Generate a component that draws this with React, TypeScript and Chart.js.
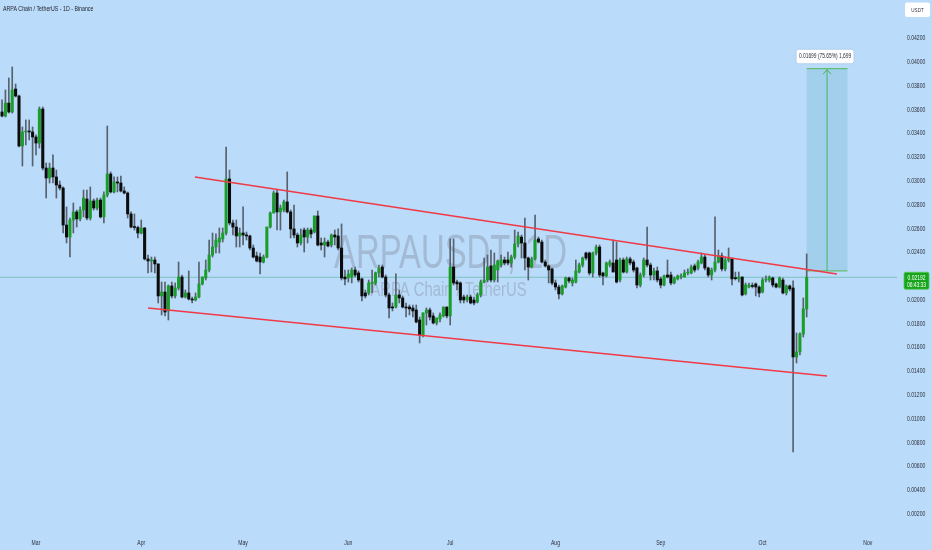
import React, { useEffect, useRef } from 'react';
import { Chart, registerables } from 'chart.js';

Chart.register(...registerables);

// Day index of the first candle, counted from 1 Mar 2025 (day 0)
const FIRST_DAY = -10;
// Prices below are in units of 0.00001 USDT
const PRICE_UNIT = 1e-5;

const OPEN = [
  3581, 3547, 3656, 3581, 3774, 3715, 3295, 3413, 3421, 3413,
  3371, 3320, 3606, 3110, 3026, 3110, 3035, 2967, 2942, 2631,
  2530, 2673, 2741, 2682, 2757, 2850, 2690, 2833, 2774, 2841,
  2699, 2883, 3060, 2909, 2993, 2984, 2917, 2900, 2724, 2614,
  2610, 2564, 2606, 2346, 2329, 2337, 2304, 2035, 2068, 1909,
  2119, 2035, 2102, 2194, 2026, 2060, 2009, 2001, 2026, 2136,
  2186, 2253, 2379, 2446, 2488, 2514, 2564, 3018, 2648, 2614,
  2539, 2564, 2547, 2539, 2438, 2371, 2362, 2320, 2362, 2614,
  2732, 2900, 2741, 2757, 2825, 2741, 2598, 2547, 2480, 2589,
  2530, 2589, 2572, 2707, 2480, 2463, 2488, 2463, 2547, 2539,
  2438, 2194, 2186, 2194, 2253, 2228, 2178, 2060, 2060, 2136,
  2144, 2228, 2278, 2194, 2043, 1942, 1942, 2043, 2018, 1942,
  1942, 1934, 1917, 1833, 1707, 1892, 1917, 1867, 1808, 1841,
  1867, 1942, 1867, 2278, 2152, 2144, 2026, 2001, 2026, 2001,
  1984, 2043, 2152, 2169, 2287, 2169, 2253, 2295, 2337, 2337,
  2312, 2362, 2472, 2530, 2480, 2354, 2278, 2346, 2514, 2488,
  2320, 2287, 2262, 2144, 2110, 2052, 2110, 2186, 2144, 2152,
  2236, 2295, 2396, 2396, 2228, 2396, 2446, 2228, 2203, 2295,
  2312, 2337, 2169, 2337, 2236, 2346, 2320, 2270, 2127, 2211,
  2337, 2295, 2211, 2245, 2178, 2127, 2211, 2211, 2144, 2178,
  2194, 2194, 2228, 2228, 2287, 2270, 2312, 2362, 2270, 2211,
  2253, 2320, 2371, 2262, 2337, 2346, 2186, 2178, 2194, 2052,
  2110, 2119, 2136, 2110, 2068, 2169, 2169, 2186, 2136, 2110,
  2169, 2060, 2119, 2102, 1522, 1564, 1715, 1926,
];

const HIGH = [
  3682, 3766, 3867, 3959, 3816, 3724, 3455, 3514, 3514, 3455,
  3388, 3623, 3623, 3152, 3152, 3220, 3093, 3001, 2951, 2783,
  2690, 2816, 2757, 2783, 2925, 2925, 2951, 2850, 2858, 2858,
  2909, 3463, 3077, 3035, 3035, 3043, 2951, 2909, 2741, 2724,
  2623, 2673, 2610, 2379, 2362, 2362, 2304, 2152, 2152, 2127,
  2152, 2144, 2320, 2211, 2085, 2245, 2026, 2060, 2320, 2194,
  2337, 2505, 2564, 2556, 2606, 2606, 3287, 3093, 2673, 2673,
  2606, 2783, 2572, 2547, 2463, 2404, 2396, 2379, 2614, 2741,
  2917, 2925, 2799, 2841, 3077, 2757, 2799, 2564, 2598, 2606,
  2606, 2606, 2707, 2749, 2522, 2522, 2505, 2556, 2589, 2598,
  2640, 2253, 2253, 2270, 2278, 2245, 2186, 2085, 2169, 2253,
  2236, 2295, 2295, 2211, 2060, 1976, 2220, 2085, 2035, 1976,
  1959, 1959, 1959, 1858, 1892, 1934, 1934, 1892, 1850, 1892,
  1942, 1942, 2514, 2514, 2169, 2152, 2043, 2043, 2043, 2026,
  2060, 2169, 2354, 2379, 2421, 2396, 2337, 2379, 2362, 2404,
  2379, 2589, 2572, 2547, 2690, 2362, 2362, 2715, 2530, 2505,
  2337, 2295, 2270, 2169, 2127, 2127, 2194, 2194, 2186, 2337,
  2312, 2362, 2404, 2404, 2404, 2463, 2463, 2236, 2320, 2337,
  2505, 2488, 2354, 2354, 2362, 2362, 2337, 2278, 2228, 2354,
  2614, 2312, 2270, 2278, 2194, 2211, 2337, 2236, 2194, 2211,
  2220, 2253, 2262, 2295, 2304, 2337, 2396, 2379, 2278, 2270,
  2699, 2421, 2396, 2362, 2438, 2354, 2236, 2236, 2194, 2144,
  2144, 2144, 2144, 2119, 2186, 2203, 2203, 2194, 2144, 2194,
  2186, 2127, 2127, 2161, 1724, 1724, 2018, 2388,
];

const LOW = [
  3539, 3539, 3572, 3572, 3707, 3287, 3127, 3304, 3346, 3127,
  3220, 3278, 3093, 2858, 2984, 2984, 2858, 2925, 2564, 2480,
  2362, 2564, 2614, 2665, 2699, 2673, 2673, 2757, 2757, 2690,
  2648, 2867, 2900, 2900, 2909, 2909, 2892, 2690, 2606, 2589,
  2522, 2556, 2337, 2228, 2236, 2228, 1976, 1875, 1867, 1833,
  2018, 2018, 2085, 2018, 2018, 2001, 1976, 1993, 2018, 2127,
  2169, 2236, 2362, 2396, 2396, 2488, 2547, 2631, 2547, 2446,
  2446, 2463, 2505, 2421, 2354, 2320, 2220, 2312, 2354, 2606,
  2732, 2589, 2589, 2741, 2732, 2522, 2522, 2446, 2463, 2404,
  2480, 2522, 2564, 2455, 2421, 2362, 2446, 2446, 2463, 2421,
  2169, 2127, 2152, 2144, 2194, 2152, 1993, 2018, 2043, 2060,
  2127, 2194, 2186, 2026, 1850, 1909, 1934, 1976, 1934, 1858,
  1875, 1858, 1808, 1640, 1690, 1791, 1833, 1799, 1791, 1816,
  1858, 1850, 1791, 2127, 2085, 1976, 1976, 1984, 1968, 1959,
  1976, 2026, 2144, 2152, 2152, 2152, 2152, 2278, 2295, 2295,
  2278, 2346, 2446, 2354, 2253, 2169, 2270, 2337, 2480, 2312,
  2278, 2144, 2127, 2085, 2009, 2043, 2102, 2144, 2119, 2144,
  2228, 2278, 2337, 2211, 2194, 2379, 2194, 2127, 2194, 2278,
  2236, 2144, 2152, 2228, 2228, 2295, 2236, 2102, 2110, 2194,
  2278, 2169, 2169, 2152, 2102, 2119, 2186, 2127, 2136, 2169,
  2178, 2194, 2211, 2220, 2236, 2253, 2304, 2253, 2194, 2169,
  2236, 2312, 2245, 2245, 2320, 2127, 2169, 2152, 2035, 2043,
  2102, 2102, 2035, 2026, 2060, 2152, 2152, 2110, 2102, 2102,
  2052, 2043, 2077, 724, 1472, 1539, 1690, 1858,
];

const CLOSE = [
  3547, 3656, 3581, 3766, 3715, 3295, 3413, 3421, 3413, 3371,
  3320, 3606, 3110, 3026, 3110, 3035, 2967, 2942, 2631, 2530,
  2673, 2741, 2682, 2757, 2858, 2690, 2833, 2774, 2841, 2699,
  2883, 3060, 2909, 2993, 2984, 2917, 2900, 2724, 2614, 2610,
  2564, 2606, 2346, 2329, 2337, 2304, 2035, 2068, 1900, 2119,
  2035, 2102, 2194, 2026, 2060, 2009, 2001, 2026, 2136, 2194,
  2253, 2379, 2446, 2505, 2522, 2564, 3018, 2648, 2614, 2539,
  2564, 2547, 2539, 2438, 2362, 2329, 2320, 2362, 2614, 2732,
  2900, 2741, 2774, 2825, 2741, 2598, 2547, 2480, 2547, 2530,
  2589, 2556, 2707, 2463, 2463, 2488, 2455, 2547, 2530, 2438,
  2186, 2178, 2220, 2253, 2211, 2169, 2035, 2035, 2144, 2152,
  2228, 2270, 2194, 2043, 1934, 1934, 2043, 2018, 1942, 1934,
  1926, 1909, 1816, 1707, 1892, 1917, 1858, 1808, 1850, 1875,
  1942, 1867, 2278, 2144, 2136, 2001, 2001, 2026, 1976, 1976,
  2043, 2152, 2169, 2278, 2169, 2295, 2329, 2337, 2312, 2312,
  2362, 2472, 2539, 2480, 2354, 2278, 2346, 2505, 2488, 2320,
  2287, 2253, 2144, 2110, 2052, 2119, 2186, 2161, 2169, 2245,
  2295, 2354, 2354, 2228, 2396, 2446, 2211, 2203, 2312, 2320,
  2236, 2152, 2337, 2236, 2346, 2312, 2253, 2127, 2211, 2337,
  2295, 2211, 2245, 2169, 2127, 2203, 2194, 2144, 2186, 2203,
  2203, 2228, 2236, 2278, 2253, 2320, 2362, 2270, 2211, 2253,
  2320, 2371, 2262, 2337, 2354, 2178, 2180, 2194, 2043, 2127,
  2127, 2115, 2110, 2060, 2169, 2178, 2194, 2127, 2110, 2186,
  2060, 2119, 2094, 1522, 1564, 1715, 1926, 2192,
];

// x axis: month starts (day index from 1 Mar)
const MONTH_DAYS = [0, 31, 61, 92, 122, 153, 184, 214, 245];
const MONTH_LABELS = ['Mar', 'Apr', 'May', 'Jun', 'Jul', 'Aug', 'Sep', 'Oct', 'Nov'];
const X_RANGE = [-10.6, 253.6];

// y axis
const Y_TICKS = [
  0.002, 0.004, 0.006, 0.008, 0.01, 0.012, 0.014, 0.016, 0.018, 0.02, 0.022,
  0.024, 0.026, 0.028, 0.03, 0.032, 0.034, 0.036, 0.038, 0.04, 0.042,
];
const Y_RANGE = [0.0011, 0.04522];

const LAST_PRICE = 0.02192;
const COUNTDOWN = '06:43:33';
const QUOTE = 'USDT';

// drawn channel lines
const UPPER_DAYS = [46.8, 235.9];
const UPPER_PRICES = [0.03034, 0.02219];
const LOWER_DAYS = [33.0, 233.0];
const LOWER_PRICES = [0.01934, 0.01362];

// long-position target box
const TARGET_DAYS = [227, 239];
const TARGET_PRICES = [0.02246, 0.03945];
const TARGET_LABEL = '0.01699 (75.65%) 1,699';

const TITLE = 'ARPA Chain / TetherUS - 1D - Binance';
const WATERMARK = 'ARPAUSDT, 1D';
const WATERMARK_SUB = 'ARPA Chain / TetherUS';

const BG = '#bbdbfa';
const GREEN = '#1b9d2a';
const BLACK = '#0c0c0c';
const WICK = '#56626e';
const RED = '#f03a45';
const FONT = "'Liberation Sans', Arial, sans-serif";

function txt(
  ctx: CanvasRenderingContext2D,
  s: string,
  x: number,
  y: number,
  size: number,
  color: string,
  align: CanvasTextAlign = 'left',
  sx = 0.76,
  baseline: CanvasTextBaseline = 'middle'
) {
  ctx.save();
  ctx.font = `${size}px ${FONT}`;
  ctx.fillStyle = color;
  ctx.textAlign = align;
  ctx.textBaseline = baseline;
  ctx.translate(x, y);
  ctx.scale(sx, 1);
  ctx.fillText(s, 0, 0);
  ctx.restore();
}

function rrect(ctx: CanvasRenderingContext2D, x: number, y: number, w: number, h: number, r: number) {
  ctx.beginPath();
  if ((ctx as any).roundRect) (ctx as any).roundRect(x, y, w, h, r);
  else ctx.rect(x, y, w, h);
}

const bgPlugin = {
  id: 'bg',
  beforeDraw(chart: any) {
    const ctx = chart.ctx as CanvasRenderingContext2D;
    ctx.save();
    ctx.fillStyle = BG;
    ctx.fillRect(0, 0, chart.width, chart.height);
    ctx.restore();
  },
};

const underlayPlugin = {
  id: 'underlay',
  beforeDatasetsDraw(chart: any) {
    const ctx = chart.ctx as CanvasRenderingContext2D;
    const a = chart.chartArea;
    const xs = chart.scales.x;
    const ys = chart.scales.y;
    const cx = (a.left + a.right) / 2 + 2;
    const cy = (a.top + a.bottom) / 2;
    txt(ctx, WATERMARK, cx, cy + 5.5, 49, 'rgba(120,132,150,0.38)', 'center', 0.67, 'alphabetic');
    txt(ctx, WATERMARK_SUB, cx - 2, cy + 33.5, 20, 'rgba(120,132,150,0.38)', 'center', 0.74, 'alphabetic');

    // target box
    const x0 = xs.getPixelForValue(TARGET_DAYS[0]);
    const x1 = xs.getPixelForValue(TARGET_DAYS[1]);
    const yb = ys.getPixelForValue(TARGET_PRICES[0]);
    const yt = ys.getPixelForValue(TARGET_PRICES[1]);
    ctx.save();
    ctx.fillStyle = 'rgba(140,196,224,0.55)';
    ctx.fillRect(x0, yt, x1 - x0, yb - yt);
    ctx.strokeStyle = '#62bf72';
    ctx.lineWidth = 1.2;
    ctx.beginPath();
    ctx.moveTo(x0, yb);
    ctx.lineTo(x1, yb);
    ctx.moveTo(x0, yt);
    ctx.lineTo(x1, yt);
    ctx.stroke();
    const xc = (x0 + x1) / 2;
    ctx.lineWidth = 1;
    ctx.strokeStyle = '#4cb35f';
    ctx.beginPath();
    ctx.moveTo(xc, yb);
    ctx.lineTo(xc, yt + 1);
    ctx.moveTo(xc - 4, yt + 5.5);
    ctx.lineTo(xc, yt + 1);
    ctx.lineTo(xc + 4, yt + 5.5);
    ctx.stroke();
    ctx.restore();
  },
};

const overlayPlugin = {
  id: 'overlay',
  afterDraw(chart: any) {
    const ctx = chart.ctx as CanvasRenderingContext2D;
    const a = chart.chartArea;
    const xs = chart.scales.x;
    const ys = chart.scales.y;
    const axisColor = '#2b2f3a';

    // y tick labels
    for (const t of ys.ticks) {
      const y = ys.getPixelForValue(t.value);
      txt(ctx, Number(t.value).toFixed(5), a.right + 10, y, 6.5, axisColor, 'left', 0.78);
    }
    // x tick labels
    xs.ticks.forEach((t: any) => {
      const i = MONTH_DAYS.indexOf(t.value);
      const x = xs.getPixelForValue(t.value);
      txt(ctx, MONTH_LABELS[i] ?? '', x, a.bottom + 18, 6.5, axisColor, 'center', 0.78);
    });

    // title
    txt(ctx, TITLE, 3, 9.5, 7, '#1c1f29', 'left', 0.75);

    // quote currency box
    ctx.save();
    ctx.fillStyle = '#ffffff';
    rrect(ctx, a.right + 8, 2.5, 25, 14.5, 2);
    ctx.fill();
    ctx.restore();
    txt(ctx, QUOTE, a.right + 20.5, 10, 6, '#333644', 'center', 0.76);

    // last price label
    const yp = ys.getPixelForValue(LAST_PRICE);
    ctx.save();
    ctx.fillStyle = '#17a51b';
    rrect(ctx, a.right + 7, yp - 5, 25, 17, 1.5);
    ctx.fill();
    ctx.strokeStyle = '#5cc85c';
    ctx.lineWidth = 0.8;
    ctx.stroke();
    ctx.restore();
    txt(ctx, LAST_PRICE.toFixed(5), a.right + 19.5, yp + 1, 6.5, '#ffffff', 'center', 0.76);
    txt(ctx, COUNTDOWN, a.right + 19.5, yp + 8, 6.5, '#ffffff', 'center', 0.76);

    // target label
    const x0 = xs.getPixelForValue(TARGET_DAYS[0]);
    const x1 = xs.getPixelForValue(TARGET_DAYS[1]);
    const yt = ys.getPixelForValue(TARGET_PRICES[1]);
    const lc = (x0 + x1) / 2 - 2;
    ctx.save();
    ctx.fillStyle = '#ffffff';
    ctx.shadowColor = 'rgba(0,0,0,0.15)';
    ctx.shadowBlur = 2;
    rrect(ctx, lc - 28.5, yt - 19, 57, 13.5, 2);
    ctx.fill();
    ctx.restore();
    txt(ctx, TARGET_LABEL, lc, yt - 12, 6.5, '#2b2f3a', 'center', 0.75);
  },
};

export default function App() {
  const ref = useRef<HTMLCanvasElement | null>(null);

  useEffect(() => {
    document.body.style.margin = '0';
    const canvas = ref.current;
    if (!canvas) return;

    const days = OPEN.map((_, i) => FIRST_DAY + i);
    const up = OPEN.map((o, i) => CLOSE[i] >= o);

    const chart = new Chart(canvas, {
      type: 'bar',
      data: {
        datasets: [
          {
            type: 'line',
            label: 'upper',
            data: UPPER_DAYS.map((d, i) => ({ x: d, y: UPPER_PRICES[i] })),
            borderColor: RED,
            borderWidth: 1.4,
            pointRadius: 0,
            order: 0,
          } as any,
          {
            type: 'line',
            label: 'lower',
            data: LOWER_DAYS.map((d, i) => ({ x: d, y: LOWER_PRICES[i] })),
            borderColor: RED,
            borderWidth: 1.4,
            pointRadius: 0,
            order: 0,
          } as any,
          {
            type: 'bar',
            label: 'body',
            data: days.map((d, i) => ({ x: d, y: [OPEN[i] * PRICE_UNIT, CLOSE[i] * PRICE_UNIT] })),
            backgroundColor: up.map((u) => (u ? GREEN : BLACK)),
            barThickness: 2.4,
            minBarLength: 1,
            grouped: false,
            order: 1,
          } as any,
          {
            type: 'bar',
            label: 'wick',
            data: days.map((d, i) => ({ x: d, y: [LOW[i] * PRICE_UNIT, HIGH[i] * PRICE_UNIT] })),
            backgroundColor: WICK,
            barThickness: 1,
            minBarLength: 1,
            grouped: false,
            order: 2,
          } as any,
          {
            type: 'line',
            label: 'last',
            data: [
              { x: X_RANGE[0], y: LAST_PRICE },
              { x: X_RANGE[1], y: LAST_PRICE },
            ],
            borderColor: 'rgba(40,165,120,0.45)',
            borderWidth: 1,
            pointRadius: 0,
            order: 3,
          } as any,
        ],
      },
      options: {
        responsive: false,
        animation: false,
        layout: { padding: 0 },
        plugins: {
          legend: { display: false },
          tooltip: { enabled: false },
        },
        scales: {
          x: {
            type: 'linear',
            min: X_RANGE[0],
            max: X_RANGE[1],
            offset: false,
            grid: { display: false },
            border: { display: false },
            ticks: { display: false },
            afterBuildTicks: (s: any) => {
              s.ticks = MONTH_DAYS.map((v) => ({ value: v }));
            },
            afterFit: (s: any) => {
              s.height = 25;
            },
          },
          y: {
            type: 'linear',
            position: 'right',
            min: Y_RANGE[0],
            max: Y_RANGE[1],
            grid: { display: false },
            border: { display: false },
            ticks: { display: false },
            afterBuildTicks: (s: any) => {
              s.ticks = Y_TICKS.map((v) => ({ value: v }));
            },
            afterFit: (s: any) => {
              s.width = 35;
            },
          },
        },
      } as any,
      plugins: [bgPlugin, underlayPlugin, overlayPlugin],
    });

    return () => chart.destroy();
  }, []);

  return (
    <div style={{ width: 932, height: 550 }}>
      <canvas ref={ref} width={932} height={550} style={{ display: 'block' }} />
    </div>
  );
}
